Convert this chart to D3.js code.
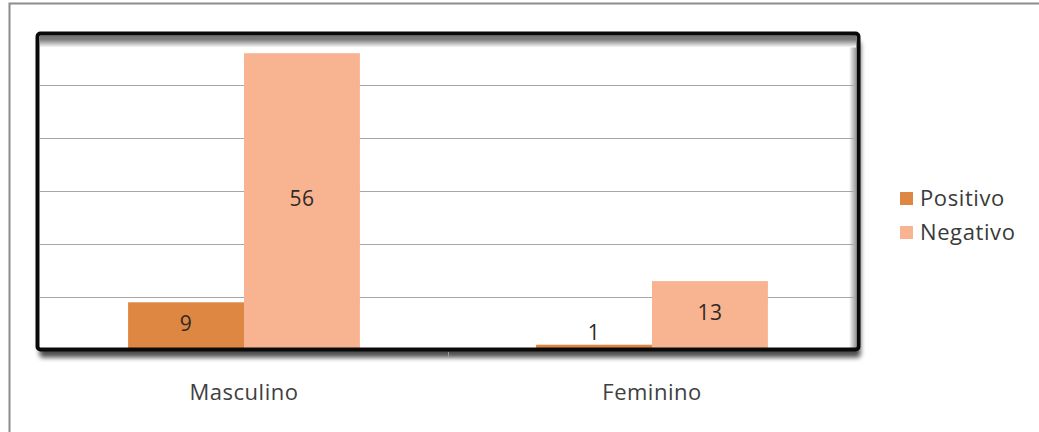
<!DOCTYPE html>
<html>
<head>
<meta charset="utf-8">
<script src="https://cdn.jsdelivr.net/npm/d3@7"></script>
<style>
  body { margin: 0; background: #fff; }
  svg text { font-family: "Open Sans", sans-serif; }
</style>
</head>
<body>
<div id="chart"></div>
<script>
// data
let categories = ["Masculino", "Feminino"];
let seriesNames = ["Positivo", "Negativo"];
let positivo = [9, 1];
let negativo = [56, 13];
let seriesColors = ["#de8743", "#f8b491"];
let yTicks = [10, 20, 30, 40, 50];

let svg_width = 1039;
let svg_height = 432;

let svg = d3.select("#chart")
  .append("svg")
  .attr("width", svg_width)
  .attr("height", svg_height);

let defs = svg.append("defs");

let shadow = defs.append("filter")
  .attr("id", "frameShadow")
  .attr("x", "-5%").attr("y", "-10%")
  .attr("width", "110%").attr("height", "130%");
shadow.append("feGaussianBlur").attr("in", "SourceAlpha").attr("stdDeviation", 2.5).attr("result", "blur");
shadow.append("feOffset").attr("in", "blur").attr("dx", 2).attr("dy", 8).attr("result", "off");
shadow.append("feComponentTransfer").attr("in", "off").attr("result", "soft")
  .append("feFuncA").attr("type", "linear").attr("slope", 0.7);
let merge = shadow.append("feMerge");
merge.append("feMergeNode").attr("in", "soft");
merge.append("feMergeNode").attr("in", "SourceGraphic");

let gTop = defs.append("linearGradient").attr("id", "wallTop")
  .attr("x1", 0).attr("y1", 0).attr("x2", 0).attr("y2", 1);
gTop.append("stop").attr("offset", "0%").attr("stop-color", "#707070");
gTop.append("stop").attr("offset", "35%").attr("stop-color", "#808080");
gTop.append("stop").attr("offset", "70%").attr("stop-color", "#c4c4c4");
gTop.append("stop").attr("offset", "100%").attr("stop-color", "#ffffff");

let gRight = defs.append("linearGradient").attr("id", "wallRight")
  .attr("x1", 1).attr("y1", 0).attr("x2", 0).attr("y2", 0);
gRight.append("stop").attr("offset", "0%").attr("stop-color", "#9a9a9a");
gRight.append("stop").attr("offset", "100%").attr("stop-color", "#ffffff");

// outer chart border (runs off the right and bottom)
svg.append("rect")
  .attr("x", 9.5).attr("y", 3.5)
  .attr("width", 1100).attr("height", 500)
  .attr("fill", "#fff")
  .attr("stroke", "#8c8c8c")
  .attr("stroke-width", 2);

let plot = { left: 40, right: 856, top: 32, bottom: 350 };

let x0 = d3.scaleBand()
  .domain(categories)
  .range([plot.left, plot.right])
  .paddingInner(0).paddingOuter(0);

let x1 = d3.scaleBand()
  .domain(seriesNames)
  .range([0, x0.bandwidth()])
  .paddingInner(0)
  .paddingOuter(0.76);

let y = d3.scaleLinear()
  .domain([0, 60])
  .range([plot.bottom, plot.top]);

// frame background with shadow
svg.append("rect")
  .attr("x", 37.5).attr("y", 33.5)
  .attr("width", 821).attr("height", 316)
  .attr("rx", 3)
  .attr("fill", "#fff")
  .attr("filter", "url(#frameShadow)");

// inner wall shading
svg.append("rect")
  .attr("x", plot.right - 7).attr("y", 35.5)
  .attr("width", 7).attr("height", plot.bottom - 36)
  .attr("fill", "url(#wallRight)");
svg.append("rect")
  .attr("x", plot.left).attr("y", 35.5)
  .attr("width", plot.right - plot.left).attr("height", 12)
  .attr("fill", "url(#wallTop)");

// gridlines
svg.append("g")
  .selectAll("line")
  .data(yTicks)
  .join("line")
  .attr("x1", plot.left).attr("x2", plot.right)
  .attr("y1", d => Math.round(y(d)) + 0.5)
  .attr("y2", d => Math.round(y(d)) + 0.5)
  .attr("stroke", "#a6a6a6")
  .attr("stroke-width", 1.2);

// bars
let rows = categories.map((c, i) => ({ cat: c, values: [positivo[i], negativo[i]] }));

let groups = svg.append("g")
  .selectAll("g")
  .data(rows)
  .join("g")
  .attr("transform", d => "translate(" + x0(d.cat) + ",0)");

groups.selectAll("rect")
  .data(d => d.values.map((v, j) => ({ key: seriesNames[j], value: v, color: seriesColors[j] })))
  .join("rect")
  .attr("x", d => x1(d.key))
  .attr("y", d => y(d.value))
  .attr("width", x1.bandwidth())
  .attr("height", d => y(0) - y(d.value))
  .attr("fill", d => d.color);

groups.selectAll("text")
  .data(d => d.values.map((v, j) => ({ key: seriesNames[j], value: v })))
  .join("text")
  .attr("x", d => x1(d.key) + x1.bandwidth() / 2)
  .attr("y", d => {
    let h = y(0) - y(d.value);
    return h > 30 ? y(d.value) + h / 2 - 3 : y(d.value) - 12;
  })
  .attr("dy", "0.35em")
  .attr("text-anchor", "middle")
  .attr("fill", "#2f2a25")
  .style("font-size", "21px")
  .style("letter-spacing", "0.5px")
  .text(d => d.value);

// frame border
svg.append("rect")
  .attr("x", 37.5).attr("y", 33.5)
  .attr("width", 821).attr("height", 316)
  .attr("rx", 3)
  .attr("fill", "none")
  .attr("stroke", "#0a0a0a")
  .attr("stroke-width", 4);

// category boundary tick
svg.append("line")
  .attr("x1", x0(categories[1]) + 0.5).attr("x2", x0(categories[1]) + 0.5)
  .attr("y1", plot.bottom + 2).attr("y2", plot.bottom + 7)
  .attr("stroke", "#9a9a9a");

// category labels
svg.append("g")
  .selectAll("text")
  .data(categories)
  .join("text")
  .attr("x", d => x0(d) + x0.bandwidth() / 2)
  .attr("y", 400)
  .attr("text-anchor", "middle")
  .attr("fill", "#404040")
  .style("font-size", "22px")
  .style("letter-spacing", "0.5px")
  .text(d => d);

// legend
let legend = svg.append("g")
  .selectAll("g")
  .data(seriesNames)
  .join("g")
  .attr("transform", (d, i) => "translate(900," + (192 + i * 34) + ")");

legend.append("rect")
  .attr("width", 13).attr("height", 13)
  .attr("fill", (d, i) => seriesColors[i]);

legend.append("text")
  .attr("x", 20)
  .attr("y", 14)
  .attr("fill", "#3a3a3a")
  .style("font-size", "22px")
  .style("letter-spacing", "0.6px")
  .text(d => d);
</script>
</body>
</html>
